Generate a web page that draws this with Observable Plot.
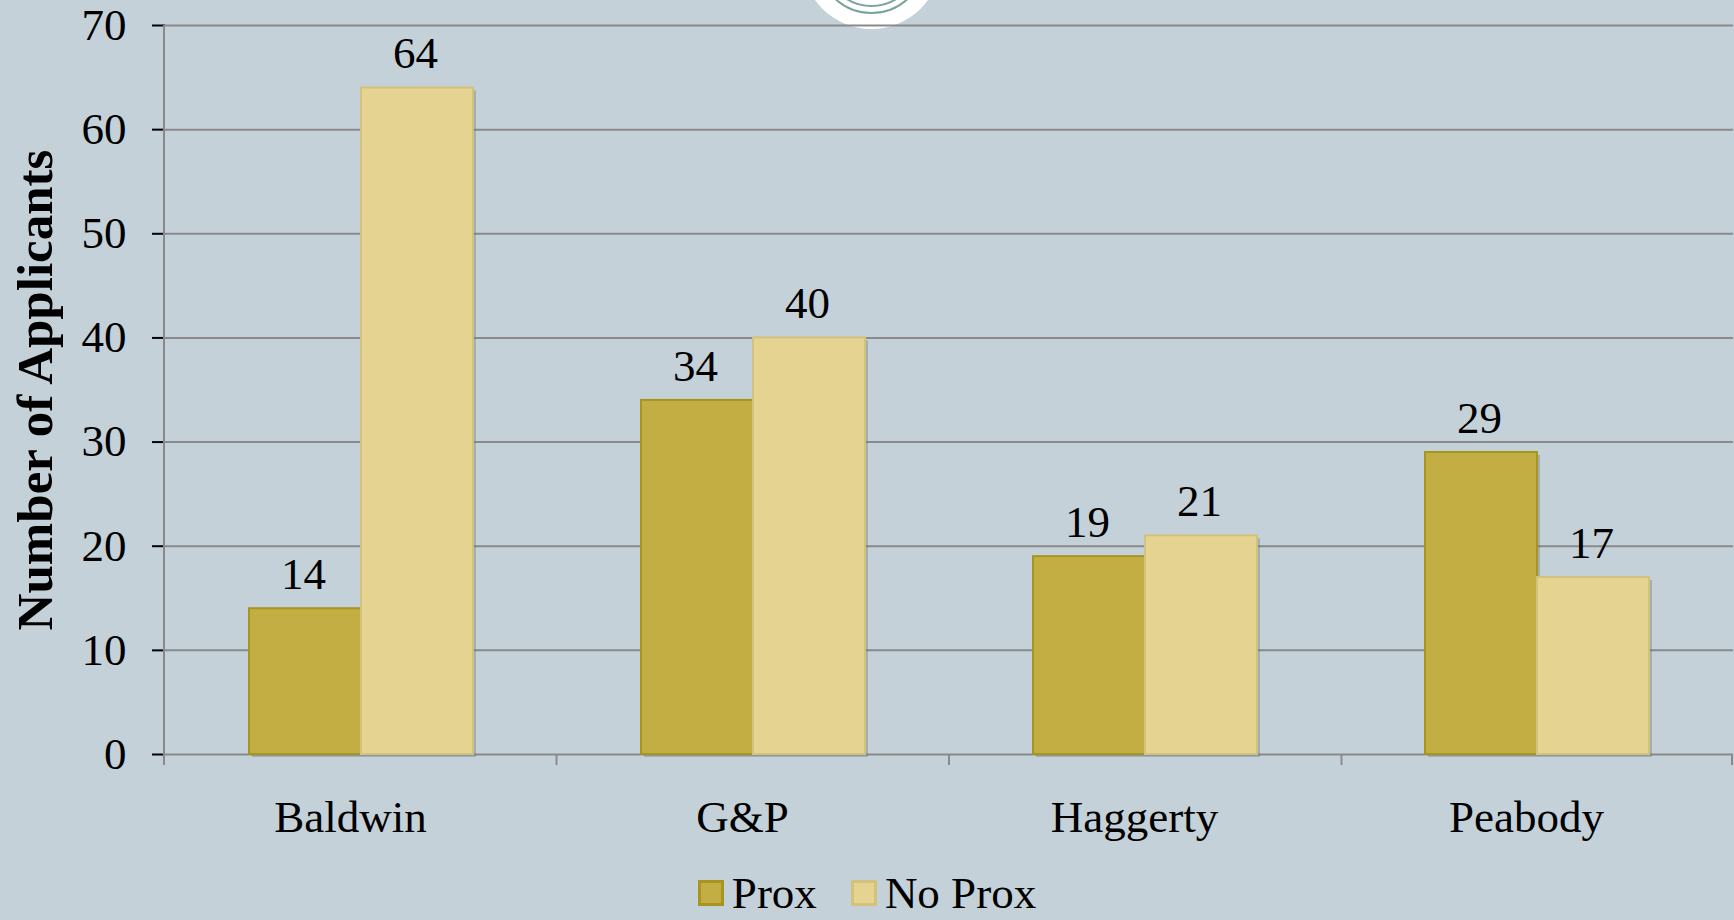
<!DOCTYPE html>
<html>
<head>
<meta charset="utf-8">
<script src="https://cdn.jsdelivr.net/npm/d3@7"></script>
<script src="https://cdn.jsdelivr.net/npm/@observablehq/plot@0.6"></script>
<style>
  html, body { margin: 0; padding: 0; background: #c5d1d8; }
  #wrap { position: relative; width: 1734px; height: 920px; overflow: hidden; background: #c5d1d8; }
  #logo { position: absolute; left: 802px; top: -110px; width: 139px; height: 139px; border-radius: 50%; background: #ffffff; z-index: 0; }
  .ring { position: absolute; border-radius: 50%; border: 2.5px solid #7da19b; box-sizing: border-box; }
  #plot { position: relative; z-index: 1; }
  #ytitle { position: absolute; left: -265px; top: 360px; width: 600px; height: 60px; line-height: 60px; text-align: center; font-family: "Liberation Serif", serif; font-size: 51px; font-weight: bold; color: #000; transform: rotate(-90deg); transform-origin: 50% 50%; white-space: nowrap; z-index: 2; }
  #legend { position: absolute; left: 0; top: 866px; width: 1734px; height: 54px; display: flex; align-items: center; justify-content: center; font-family: "Liberation Serif", serif; font-size: 45px; line-height: 45px; color: #000; z-index: 2; }
  .sw { width: 26px; height: 26px; box-sizing: border-box; border: 3px solid; margin-right: 8px; }
  .item { display: flex; align-items: center; margin: 0 17px; }
</style>
</head>
<body>
<div id="wrap">
  <div id="logo">
    <div class="ring" style="left:15px;top:15px;width:109px;height:109px"></div>
    <div class="ring" style="left:22px;top:22px;width:95px;height:95px"></div>
  </div>
  <div id="plot"></div>
  <div id="ytitle"></div>
  <div id="legend"></div>
</div>
<script>
const categories = ["Baldwin", "G&P", "Haggerty", "Peabody"];
const series = ["Prox", "No Prox"];
const proxValues = [14, 34, 19, 29];
const noProxValues = [64, 40, 21, 17];
const yTicks = [0, 10, 20, 30, 40, 50, 60, 70];
const seriesFill = ["#c2ae42", "#e4d391"];
const seriesStroke = ["#a8951f", "#d4c27b"];
const yTitle = "Number of Applicants";

const data = categories.flatMap((c, i) => [
  {category: c, series: series[0], value: proxValues[i]},
  {category: c, series: series[1], value: noProxValues[i]}
]);

const gridColor = "#8a8a8a";

const chart = Plot.plot({
  width: 1734,
  height: 860,
  marginLeft: 164,
  marginRight: 0,
  marginTop: 25,
  marginBottom: 106,
  style: {background: "transparent", fontFamily: "Liberation Serif, serif", fontSize: "45px", color: "#000", overflow: "visible"},
  fx: {domain: categories, padding: 0, label: null},
  x: {domain: series, paddingInner: 0, paddingOuter: 0.75, axis: null},
  y: {domain: [0, 70], ticks: yTicks, tickSize: 13, tickPadding: 26, label: null, tickFormat: d => String(d)},
  color: {domain: series, range: seriesFill},
  marks: [
    Plot.ruleY(yTicks, {y: d => d, stroke: gridColor, strokeWidth: 2}),
    Plot.axisFx({anchor: "bottom", tickSize: 0, tickPadding: 46, dx: -11, label: null, fontSize: 45}),
    Plot.barY(data, {fx: "category", x: "series", y: "value", fill: "#5f6f78", fillOpacity: 0.35, dx: 3, dy: 3}),
    Plot.barY(data.filter(d => d.series === series[0]), {fx: "category", x: "series", y: "value", fill: "series", stroke: seriesStroke[0], strokeWidth: 2}),
    Plot.barY(data.filter(d => d.series === series[1]), {fx: "category", x: "series", y: "value", fill: "series", stroke: seriesStroke[1], strokeWidth: 2}),
    Plot.text(data, {fx: "category", x: "series", y: "value", text: d => String(d.value), dy: -34, dx: -2, fontSize: 45, fill: "#000"})
  ]
});

document.getElementById("plot").appendChild(chart);
document.getElementById("ytitle").textContent = yTitle;

// Post-render: axis line, band-boundary ticks, grey y ticks, derived from Plot's own scales
const svg = d3.select(chart.tagName.toLowerCase() === "svg" ? chart : chart.querySelector("svg"));
const fxS = chart.scale("fx");
const yS = chart.scale("y");
const yPx = d3.scaleLinear(yS.domain, yS.range);
const r0 = fxS.range[0], r1 = fxS.range[1];
const n = fxS.domain.length;
const y0 = yPx(0), yTop = yPx(yTicks[yTicks.length - 1]);
const g = svg.append("g").attr("stroke", gridColor).attr("stroke-width", 2);
d3.range(n + 1).forEach(i => {
  let x = r0 + i * (r1 - r0) / n;
  if (i === n) x -= 2;
  g.append("line").attr("x1", x).attr("x2", x).attr("y1", i === 0 ? yTop : y0).attr("y2", y0 + 11);
});
svg.selectAll('[aria-label="y-axis tick"]').attr("stroke", gridColor).attr("stroke-width", 2);

// Legend (HTML below the SVG)
const legend = d3.select("#legend");
series.forEach((s, i) => {
  const it = legend.append("div").attr("class", "item");
  it.append("div").attr("class", "sw").style("background", seriesFill[i]).style("border-color", seriesStroke[i]);
  it.append("span").text(s);
});
</script>
</body>
</html>
